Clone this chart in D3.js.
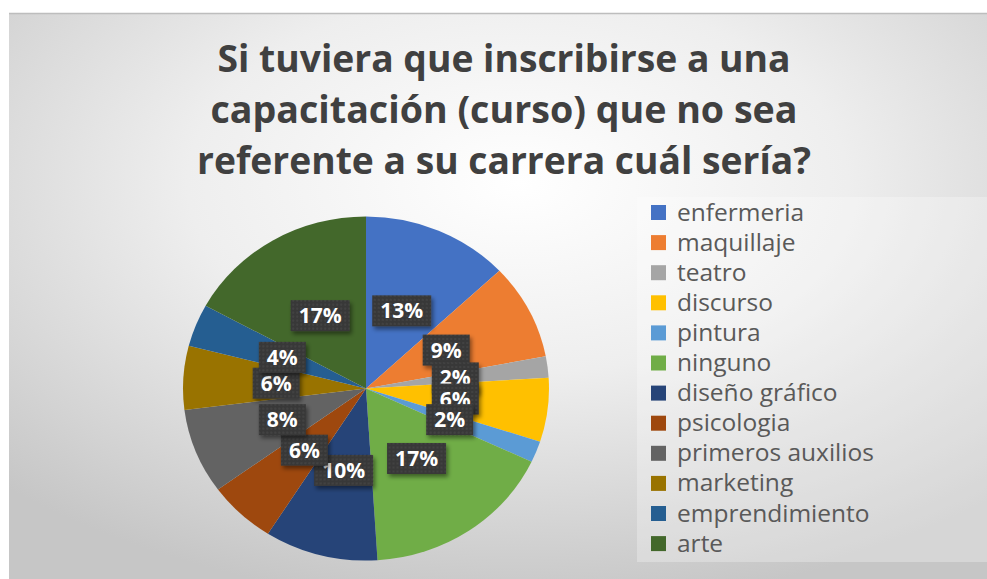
<!DOCTYPE html>
<html><head><meta charset="utf-8">
<script src="https://cdn.jsdelivr.net/npm/d3@7"></script>
<style>html,body{margin:0;padding:0;background:#fff;}svg{display:block;}</style>
</head><body>
<svg id="chart" width="987" height="579"></svg>
<script>
const categories = ["enfermeria","maquillaje","teatro","discurso","pintura","ninguno","diseño gráfico","psicologia","primeros auxilios","marketing","emprendimiento","arte"];
const values = [13, 9, 2, 6, 2, 17, 10, 6, 8, 6, 4, 17];
const colors = ["#4472C4","#ED7D31","#A5A5A5","#FFC000","#5B9BD5","#70AD47","#264478","#9E480E","#636363","#997300","#255E91","#43682B"];
const titleLines = ["Si tuviera que inscribirse a una","capacitación (curso) que no sea","referente a su carrera cuál sería?"];

const svg = d3.select("#chart");
const W = 987, H = 579;
const defs = svg.append("defs");

const bg = defs.append("radialGradient").attr("id","bg").attr("cx","52%").attr("cy","30%").attr("r","75%");
bg.append("stop").attr("offset","0%").attr("stop-color","#ffffff");
bg.append("stop").attr("offset","45%").attr("stop-color","#eeeeee");
bg.append("stop").attr("offset","100%").attr("stop-color","#c6c6c6");

const pat = defs.append("pattern").attr("id","dots").attr("width",4).attr("height",4).attr("patternUnits","userSpaceOnUse");
pat.append("rect").attr("width",4).attr("height",4).attr("fill","#383838");
pat.append("circle").attr("cx",1).attr("cy",1).attr("r",0.8).attr("fill","#505050");

const sh = defs.append("filter").attr("id","shadow").attr("x","-30%").attr("y","-30%").attr("width","160%").attr("height","160%");
sh.append("feDropShadow").attr("dx",2).attr("dy",3).attr("stdDeviation",2).attr("flood-color","#000").attr("flood-opacity",0.45);

// chart area
svg.append("rect").attr("x",9).attr("y",13).attr("width",W-9).attr("height",H-13).attr("fill","url(#bg)");
svg.append("line").attr("x1",9).attr("x2",W).attr("y1",13.5).attr("y2",13.5).attr("stroke","#bdbdbd").attr("stroke-width",1.5);

// title
const titleWidths = [573, 587, 614];
const titleBase = [72, 123, 174];
svg.append("g").selectAll("text").data(titleLines).join("text")
  .attr("x", 504).attr("y", (d,i)=>titleBase[i])
  .attr("text-anchor","middle")
  .attr("font-family","'Open Sans', 'Noto Sans', sans-serif")
  .attr("font-weight",700).attr("font-size",38)
  .attr("fill","#404040")
  .attr("textLength",(d,i)=>titleWidths[i]).attr("lengthAdjust","spacingAndGlyphs")
  .text(d=>d);

// legend box (subtle)
svg.append("rect").attr("x",637).attr("y",197).attr("width",W-637).attr("height",365)
  .attr("fill","#ffffff").attr("fill-opacity",0.28);

// pie
const cx = 366, cy = 388.5, R = 183, sy = 0.94;
const pie = d3.pie().sort(null).value(d=>d.v);
const data = pie(categories.map((c,i)=>({c, v: values[i], col: colors[i]})));
const arc = d3.arc().innerRadius(0).outerRadius(R);
const gPie = svg.append("g").attr("transform",`translate(${cx},${cy}) scale(1,${sy})`);
gPie.selectAll("path").data(data).join("path")
  .attr("d", arc).attr("fill", d=>d.data.col);

// labels
const fmt = d3.format(".0%");
const total = d3.sum(values);
const labelR = 90;
const gLab = svg.append("g").attr("transform",`translate(${cx},${cy})`);
data.forEach(d => {
  const a = (d.startAngle + d.endAngle)/2;
  const x = labelR*Math.sin(a), y = -labelR*Math.cos(a)*sy;
  const g = gLab.append("g").attr("transform",`translate(${x},${y})`);
  const t = fmt(d.data.v/total);
  const rect = g.append("rect").attr("fill","url(#dots)").attr("filter","url(#shadow)");
  const txt = g.append("text").attr("text-anchor","middle").attr("dy","0.36em")
    .attr("font-family","'Open Sans', 'Noto Sans', sans-serif").attr("font-weight",700)
    .attr("font-size",21).attr("fill","#ffffff").text(t);
  const bb = txt.node().getBBox();
  const w = bb.width + 16, h = 31;
  rect.attr("x",-w/2).attr("y",-h/2).attr("width",w).attr("height",h);
});

// legend
const lx = 651, ly0 = 212.5, lstep = 30.1;
const gLeg = svg.append("g");
const items = gLeg.selectAll("g").data(categories).join("g")
  .attr("transform",(d,i)=>`translate(${lx},${ly0 + i*lstep})`);
items.append("rect").attr("x",0).attr("y",-7.5).attr("width",15).attr("height",15).attr("fill",(d,i)=>colors[i]);
items.append("text").attr("x",26).attr("y",8)
  .attr("font-family","'Open Sans', 'Noto Sans', sans-serif").attr("font-size",24.5)
  .attr("fill","#595959").text(d=>d);
</script>
</body></html>
